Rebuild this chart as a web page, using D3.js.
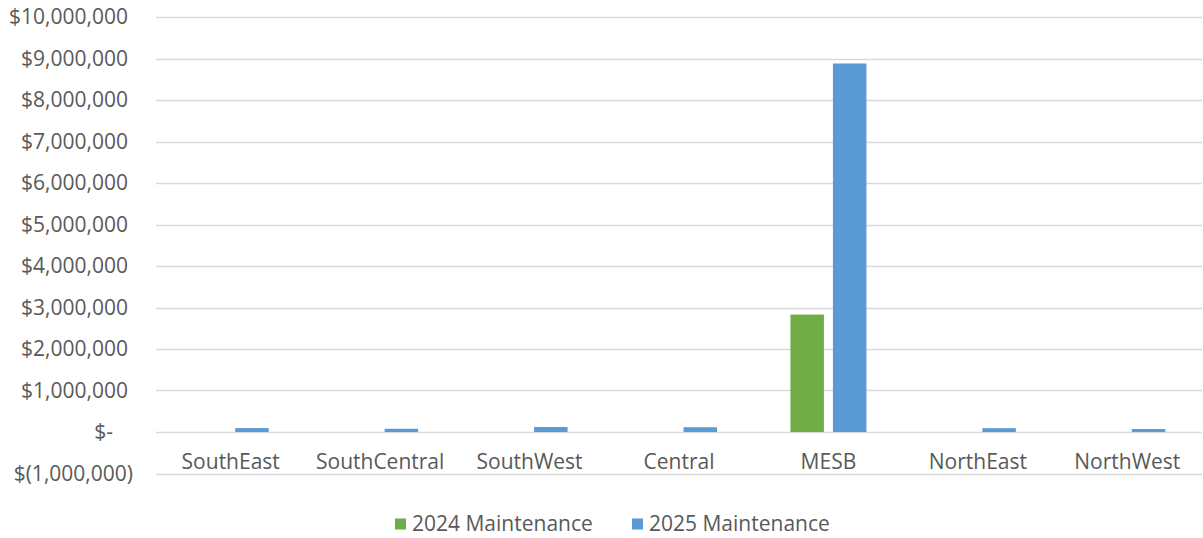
<!DOCTYPE html>
<html><head><meta charset="utf-8">
<script src="https://cdn.jsdelivr.net/npm/d3@7"></script>
<style>body{margin:0;background:#fff}svg text{font-family:"Open Sans","Noto Sans",sans-serif;fill:#595959}</style>
</head><body><svg id="c" width="1203" height="538"></svg>
<script>
const categories = ["SouthEast","SouthCentral","SouthWest","Central","MESB","NorthEast","NorthWest"];
const seriesNames = ["2024 Maintenance","2025 Maintenance"];
const values2024 = [0,0,0,0,2830000,0,0];
const values2025 = [95000,78000,120000,115000,8880000,92000,72000];
const yTicks = [-1000000,0,1000000,2000000,3000000,4000000,5000000,6000000,7000000,8000000,9000000,10000000];
const colors = ["#70AD47","#5B9BD5"];

const FONT = "'Open Sans', 'Noto Sans', sans-serif";
const FS = 21;
const svg = d3.select("#c");
const plotL = 156, plotR = 1202, plotT = 17, plotB = 473.5;
const x = d3.scaleBand().domain(categories).range([plotL, plotR]).padding(0);
const groupW = 76;
const x1 = d3.scaleBand().domain(seriesNames)
  .range([(x.bandwidth()-groupW)/2, (x.bandwidth()+groupW)/2]).paddingInner(0.212).paddingOuter(0);
const y = d3.scaleLinear().domain([-1000000, 10000000]).range([plotB, plotT]);

function fmt(v){
  if (v === 0) return "$-";
  if (v < 0) return "$(" + d3.format(",")(-v) + ")";
  return "$" + d3.format(",")(v);
}

// gridlines
svg.append("g").selectAll("line").data(yTicks).join("line")
  .attr("x1", plotL).attr("x2", plotR)
  .attr("y1", d => Math.round(y(d))+0.5).attr("y2", d => Math.round(y(d))+0.5)
  .attr("stroke", "#D9D9D9").attr("stroke-width", 1.3);

// y axis labels
const yAxis = d3.axisLeft(y).tickValues(yTicks).tickFormat(fmt).tickSize(0).tickPadding(0);
const ya = svg.append("g").attr("transform", `translate(128,0)`).call(yAxis);
ya.select(".domain").remove();
ya.selectAll("text").attr("font-size", FS).style("font-family", FONT).attr("fill", "#595959")
  .attr("dx", d => d < 0 ? 5 : (d === 0 ? -15 : 0));

// bars
const data = categories.map((c,i) => ({c, vals:[values2024[i], values2025[i]]}));
const g = svg.append("g").selectAll("g").data(data).join("g")
  .attr("transform", d => `translate(${x(d.c)},0)`);
g.selectAll("rect").data(d => d.vals.map((v,j) => ({v, s: seriesNames[j], j}))).join("rect")
  .attr("x", d => x1(d.s)).attr("width", x1.bandwidth())
  .attr("y", d => y(Math.max(0,d.v))).attr("height", d => Math.abs(y(d.v) - y(0)))
  .attr("fill", d => colors[d.j]);

// x axis labels
const xAxis = d3.axisBottom(x).tickSize(0).tickPadding(0);
const xa = svg.append("g").attr("transform", `translate(0,454.5)`).call(xAxis);
xa.select(".domain").remove();
xa.selectAll("text").attr("font-size", FS).style("font-family", FONT).attr("fill", "#595959");

// legend
const legendX = [395, 632];
const lg = svg.append("g").selectAll("g").data(seriesNames).join("g")
  .attr("transform", (d,i) => `translate(${legendX[i]},524)`);
lg.append("rect").attr("x", 0).attr("y", -5.5).attr("width", 11).attr("height", 11).attr("fill", (d,i) => colors[i]);
lg.append("text").attr("x", 17).attr("y", 0).attr("dy", "0.35em").attr("font-size", FS).style("font-family", FONT).text(d => d);
</script></body></html>
